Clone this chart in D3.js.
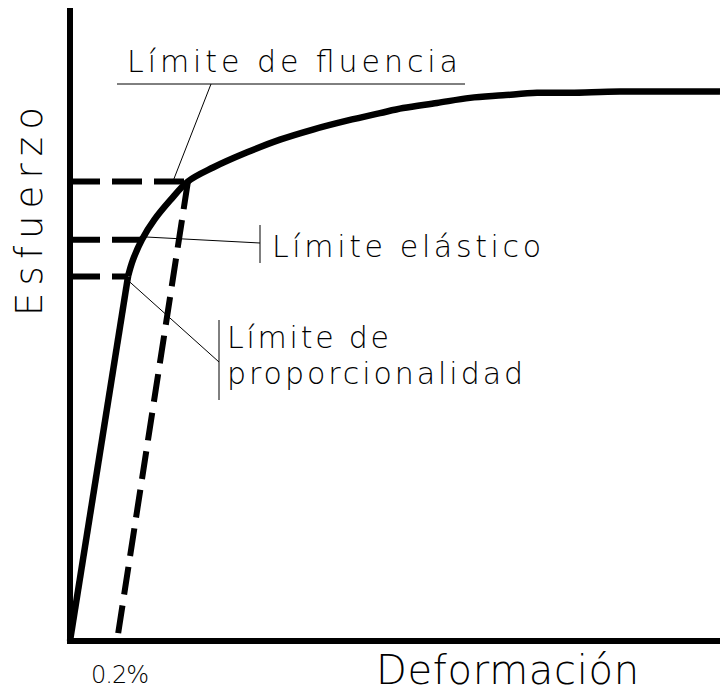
<!DOCTYPE html>
<html>
<head>
<meta charset="utf-8">
<script src="https://cdn.jsdelivr.net/npm/d3@7"></script>
<style>
  body { margin: 0; background: #fff; }
  text { font-family: "DejaVu Sans", "Liberation Sans", sans-serif; font-weight: 200; fill: #000; }
</style>
</head>
<body>
<div id="chart"></div>
<script>
// curve (strain in %, stress in arbitrary units)
const strain = [0, 0.247, 0.268, 0.306, 0.36, 0.426, 0.502, 0.609, 0.754, 0.894, 1.034, 1.179, 1.32, 1.418, 1.562, 1.703, 1.843, 1.988, 2.129, 2.341, 2.767];
const stress = [0, 288, 301, 317, 333, 348, 363, 374, 386, 396, 404, 411, 417, 421, 425, 429, 431, 433, 433, 434, 434];

// the three limits: proporcionalidad, elástico, fluencia
const limitStrain = [0.247, 0.306, 0.502];
const limitStress = [288, 317, 363];

const offsetStrain = 0.2;
const offsetLabel = "0.2%";
const xTitle = "Deformación";
const yTitle = "Esfuerzo";

const W = 720, H = 693;

const svg = d3.select("#chart")
  .append("svg")
  .attr("width", W)
  .attr("height", H);

const x = d3.scaleLinear().domain([0, 2.75]).range([70, 716]);
const y = d3.scaleLinear().domain([0, 500]).range([641, 8]);

const pts = strain.map((s, i) => ({ s: s, v: stress[i] }));

// dashed lines from the axis to each limit
limitStrain.forEach((s, i) => {
  svg.append("line")
    .attr("x1", x(0))
    .attr("x2", x(s))
    .attr("y1", y(limitStress[i]))
    .attr("y2", y(limitStress[i]))
    .attr("stroke", "#000")
    .attr("stroke-width", 6)
    .attr("stroke-dasharray", "30 12");
});

// 0.2% offset line (drawn from the yield point down)
svg.append("line")
  .attr("x1", x(limitStrain[2]))
  .attr("y1", y(limitStress[2]))
  .attr("x2", x(offsetStrain))
  .attr("y2", y(0))
  .attr("stroke", "#000")
  .attr("stroke-width", 6)
  .attr("stroke-dasharray", "28 11");

// elastic part (straight) + plastic part (smooth)
const straight = d3.line().x(d => x(d.s)).y(d => y(d.v));
const smooth = d3.line().x(d => x(d.s)).y(d => y(d.v)).curve(d3.curveCatmullRom.alpha(0.5));

svg.append("path")
  .attr("d", straight(pts.slice(0, 2)))
  .attr("fill", "none")
  .attr("stroke", "#000")
  .attr("stroke-width", 6.5);

svg.append("path")
  .attr("d", smooth(pts.slice(1)))
  .attr("fill", "none")
  .attr("stroke", "#000")
  .attr("stroke-width", 6.5)
  .attr("stroke-linejoin", "round");

// axes
svg.append("line")
  .attr("x1", x(0)).attr("x2", x(0))
  .attr("y1", y.range()[1]).attr("y2", y(0) + 3)
  .attr("stroke", "#000").attr("stroke-width", 6);

svg.append("line")
  .attr("x1", x(0) - 3).attr("x2", W)
  .attr("y1", y(0)).attr("y2", y(0))
  .attr("stroke", "#000").attr("stroke-width", 6);

// leader lines
const thin = (x1, y1, x2, y2) => svg.append("line")
  .attr("x1", x1).attr("y1", y1).attr("x2", x2).attr("y2", y2)
  .attr("stroke", "#000").attr("stroke-width", 1);

// fluencia
thin(117, 84, 465, 84);
thin(211, 84, x(limitStrain[2]) - 15, y(limitStress[2]));
// elástico
thin(x(limitStrain[1]) - 2, y(limitStress[1]) - 3, 260, 243);
thin(260, 225, 260, 263);
// proporcionalidad
thin(x(limitStrain[0]), y(limitStress[0]) + 4, 219, 362);
thin(219, 320, 219, 400);

// labels
const label = (t, lx, ly, size, len) => svg.append("text")
  .attr("x", lx)
  .attr("y", ly)
  .attr("font-size", size)
  .attr("textLength", len)
  .attr("lengthAdjust", "spacing")
  .text(t);

label("Límite de fluencia", 127, 72, 30, 331);
label("Límite elástico", 272, 257, 30, 269);
label("Límite de", 227, 348, 30, 162);
label("proporcionalidad", 227, 384, 30, 296);
label(offsetLabel, 91, 683, 24, 58);
label(xTitle, 376, 684, 40, 263);

svg.append("text")
  .attr("transform", "translate(42,316) rotate(-90)")
  .attr("font-size", 37)
  .attr("textLength", 209)
  .attr("lengthAdjust", "spacing")
  .text(yTitle);
</script>
</body>
</html>
